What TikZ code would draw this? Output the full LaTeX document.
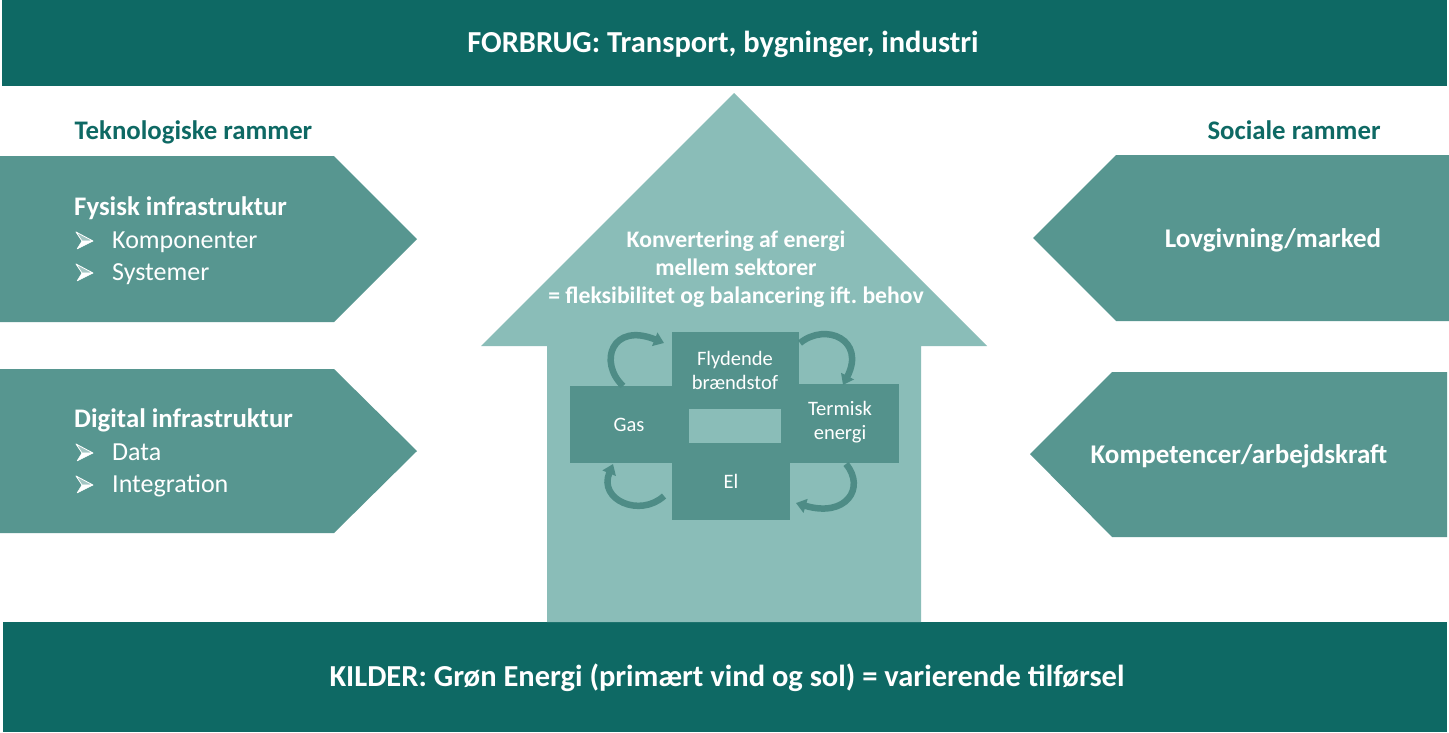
\documentclass[tikz,border=0pt]{standalone}
\usepackage{fontspec}
\setmainfont{Carlito}
\usetikzlibrary{arrows.meta}
\frenchspacing
\definecolor{band}{RGB}{14,105,100}
\definecolor{panel}{RGB}{87,150,144}
\definecolor{bigarrow}{RGB}{138,189,184}
\definecolor{crossbox}{RGB}{84,146,140}
\definecolor{cyc}{RGB}{78,140,134}
\definecolor{heading}{RGB}{14,105,100}
\tikzset{
  wtxt/.style={text=white, inner sep=0pt},
  bandtxt/.style={wtxt, font=\fontsize{30.5}{34}\selectfont\bfseries},
  paneltitle/.style={wtxt, anchor=base west, font=\fontsize{26.8}{30}\selectfont\bfseries},
  bullettxt/.style={wtxt, anchor=base west, font=\fontsize{26}{30}\selectfont},
  headtxt/.style={text=heading, inner sep=0pt, anchor=base, font=\fontsize{26.8}{30}\selectfont\bfseries},
  righttxt/.style={wtxt, anchor=base, font=\fontsize{27}{30}\selectfont\bfseries},
  centertxt/.style={wtxt, align=center, font=\fontsize{23.7}{28}\selectfont\bfseries},
  crosstxt/.style={wtxt, align=center, font=\fontsize{20.5}{24}\selectfont},
  cycarrow/.style={draw=cyc, line width=6.5pt, -{Triangle[width=14pt,length=10pt]}},
  bulletup/.style={fill=white, fill opacity=0.45, draw=white, line width=0.8pt, line join=round},
  bulletlow/.style={fill=white, draw=white, line width=0.5pt, line join=round},
  pics/bulletarrow/.style={code={
    \path[bulletup] (0,-16) -- (17,-7) -- (6,-7) -- cycle;
    \path[bulletlow] (6,-7) -- (17,-7) -- (1,1) -- cycle;
  }},
}
\begin{document}
\begin{tikzpicture}[x=1pt,y=-1pt]
\useasboundingbox (0,0) rectangle (1449,732);
\fill[white] (0,0) rectangle (1449,732);
% bands
\fill[band] (2,0) rectangle (1447,86);
\fill[band] (3,622) rectangle (1447,732);
\node[bandtxt] (forbrug) at (723,44) {FORBRUG: Transport, bygninger, industri};
\node[bandtxt] (kilder) at (727,678) {KILDER: Grøn Energi (primært vind og sol) = varierende tilførsel};
% big arrow
\fill[bigarrow] (734,93) -- (987,346) -- (921,346) -- (921,622) -- (547,622) -- (547,346) -- (481,346) -- cycle;
\node[centertxt] (konv) at (736,269) {Konvertering af energi\\mellem sektorer\\= fleksibilitet og balancering ift. behov};
% left panels
\fill[panel] (0,156) -- (334,156) -- (417,239) -- (334,322) -- (0,322) -- cycle;
\fill[panel] (0,369) -- (334,369) -- (417,451) -- (334,533) -- (0,533) -- cycle;
% right panels
\fill[panel] (1449,155) -- (1116,155) -- (1033,238) -- (1116,321) -- (1449,321) -- cycle;
\fill[panel] (1447,372) -- (1112,372) -- (1030,454) -- (1112,537) -- (1447,537) -- cycle;
% headings
\node[headtxt] (tek) at (193.5,139) {Teknologiske rammer};
\node[headtxt] (soc) at (1294,139) {Sociale rammer};
% left texts
\node[paneltitle] (fys) at (74,215) {Fysisk infrastruktur};
\pic at (76,248) {bulletarrow};
\node[bullettxt] (komp) at (112,248) {Komponenter};
\pic at (76,280) {bulletarrow};
\node[bullettxt] (sys) at (112,280) {Systemer};
\node[paneltitle] (dig) at (74,427) {Digital infrastruktur};
\pic at (76,460) {bulletarrow};
\node[bullettxt] (data) at (112,460) {Data};
\pic at (76,492) {bulletarrow};
\node[bullettxt] (integ) at (112,492) {Integration};
% right texts
\node[righttxt] (lov) at (1273,247) {Lovgivning/marked};
\node[righttxt] (kompet) at (1239,463) {Kompetencer/arbejdskraft};
% cross
\fill[crossbox] (672,332) rectangle (799,409);
\fill[crossbox] (570,386) rectangle (689,463);
\fill[crossbox] (781,384) rectangle (899,463);
\fill[crossbox] (672,443) rectangle (790,520);
\node[crosstxt] (fly) at (735,370) {Flydende\\brændstof};
\node[crosstxt] (gas) at (629,425) {Gas};
\node[crosstxt] (term) at (840,422) {Termisk\\energi};
\node[crosstxt] (el) at (731,481) {El};
% cycle arrows
\coordinate (tl0) at (623,386); \coordinate (tl1) at (664,343);
\coordinate (tr0) at (800,343); \coordinate (tr1) at (843,385);
\coordinate (br0) at (846,464); \coordinate (br1) at (796,503);
\coordinate (bl0) at (664,496); \coordinate (bl1) at (613,464);
\draw[cycarrow] (tl0) .. controls (598,362) and (612,322) .. (tl1);
\draw[cycarrow] (tr0) .. controls (826,322) and (866,340) .. (tr1);
\draw[cycarrow] (br0) .. controls (866,488) and (846,518) .. (br1);
\draw[cycarrow] (bl0) .. controls (640,518) and (598,500) .. (bl1);
\end{tikzpicture}
\end{document}
